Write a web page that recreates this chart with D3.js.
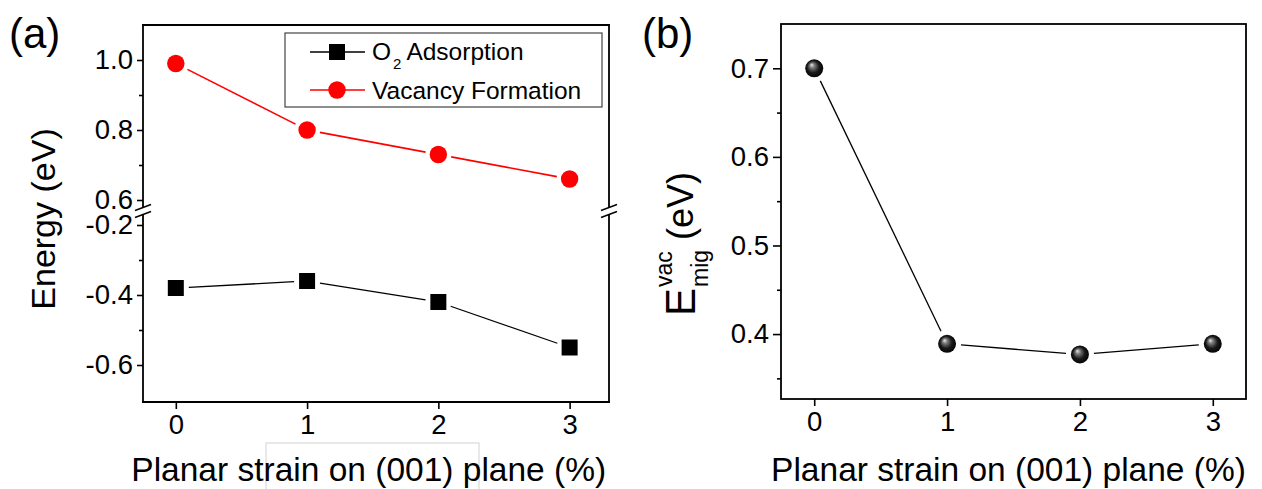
<!DOCTYPE html>
<html>
<head>
<meta charset="utf-8">
<script src="https://cdn.jsdelivr.net/npm/d3@7.9.0/dist/d3.min.js"></script>
<style>
  body { margin: 0; background: #fff; }
  svg { display: block; font-family: "Liberation Sans", Arial, sans-serif; }
</style>
</head>
<body>
<svg id="chart" width="1262" height="489"></svg>
<script>
// data
const strain = [0, 1, 2, 3];
const o2Adsorption = [-0.38, -0.36, -0.42, -0.55];
const vacancyFormation = [0.99, 0.80, 0.73, 0.66];
const migrationEnergy = [0.70, 0.389, 0.377, 0.389];

const xTicks = [0, 1, 2, 3];
const upperTicks = [0.6, 0.8, 1.0];
const upperMinor = [0.7, 0.9];
const lowerTicks = [-0.6, -0.4, -0.2];
const lowerMinor = [-0.5, -0.3];
const rightTicks = [0.4, 0.5, 0.6, 0.7];
const rightMinor = [0.35, 0.45, 0.55, 0.65];

const svg = d3.select('#chart');
const fmt = d => d.toFixed(1); // plain hyphen, not the unicode minus
const FONT = '"Liberation Sans", Arial, sans-serif';

// ---- panel (a) ----
const A = { left: 143, right: 609, top: 25, bottom: 402, brk: 211 };
const xA = d3.scaleLinear().domain([-0.25, 3.3]).range([A.left, A.right]);
const yUp = d3.scaleLinear().domain([0.6, 1.1]).range([200, A.top]);
const yLo = d3.scaleLinear().domain([-0.7, -0.2]).range([400, 225]);

// odd little grey box sitting behind the x title in the original
svg.append('rect')
  .attr('x', 266).attr('y', 443).attr('width', 213).attr('height', 60)
  .attr('fill', 'none').attr('stroke', '#d2d2d2').attr('stroke-width', 1);

const gA = svg.append('g');

function yAxisPiece(g, scale, major, minor, x, size) {
  const ax = g.append('g').attr('transform', `translate(${x},0)`)
    .call(d3.axisLeft(scale).tickValues(major).tickFormat(fmt).tickSize(size).tickPadding(4));
  ax.select('.domain').remove();
  ax.selectAll('line').attr('stroke', '#000').attr('stroke-width', 1.6);
  ax.selectAll('text').attr('font-size', 27.5).attr('fill', '#000').attr('font-family', FONT);
  const mn = g.append('g').attr('transform', `translate(${x},0)`)
    .call(d3.axisLeft(scale).tickValues(minor).tickFormat('').tickSize(4));
  mn.select('.domain').remove();
  mn.selectAll('line').attr('stroke', '#000').attr('stroke-width', 1.6);
}

function xAxis(g, scale, y) {
  const ax = g.append('g').attr('transform', `translate(0,${y})`)
    .call(d3.axisBottom(scale).tickValues(xTicks).tickFormat(d3.format('d')).tickSize(7).tickPadding(5));
  ax.select('.domain').remove();
  ax.selectAll('line').attr('stroke', '#000').attr('stroke-width', 1.6);
  ax.selectAll('text').attr('font-size', 27.5).attr('fill', '#000').attr('font-family', FONT);
}

yAxisPiece(gA, yUp, upperTicks, upperMinor, A.left, 6);
yAxisPiece(gA, yLo, lowerTicks, lowerMinor, A.left, 6);
xAxis(gA, xA, A.bottom);

// frame with the break cut out of both vertical sides
const frameA = [
  [A.left, A.top, A.right, A.top],
  [A.left, A.bottom, A.right, A.bottom],
  [A.left, A.top, A.left, A.brk - 4],
  [A.left, A.brk + 4, A.left, A.bottom],
  [A.right, A.top, A.right, A.brk - 4],
  [A.right, A.brk + 4, A.right, A.bottom]
];
gA.selectAll('line.frame').data(frameA).join('line')
  .attr('class', 'frame')
  .attr('x1', d => d[0]).attr('y1', d => d[1]).attr('x2', d => d[2]).attr('y2', d => d[3])
  .attr('stroke', '#000').attr('stroke-width', 1.8).attr('stroke-linecap', 'square');

// break marks "//"
[A.left, A.right].forEach(x => {
  [-3.5, 3.5].forEach(off => {
    gA.append('line')
      .attr('x1', x - 8).attr('y1', A.brk + off + 3)
      .attr('x2', x + 8).attr('y2', A.brk + off - 3)
      .attr('stroke', '#000').attr('stroke-width', 1.4);
  });
});

// lines that stop short of the markers, like Origin draws them
function gappedLine(g, pts, gap, color, width) {
  for (let i = 0; i < pts.length - 1; i++) {
    const [x1, y1] = pts[i], [x2, y2] = pts[i + 1];
    const len = Math.hypot(x2 - x1, y2 - y1);
    const ux = (x2 - x1) / len, uy = (y2 - y1) / len;
    g.append('line')
      .attr('x1', x1 + ux * gap).attr('y1', y1 + uy * gap)
      .attr('x2', x2 - ux * gap).attr('y2', y2 - uy * gap)
      .attr('stroke', color).attr('stroke-width', width);
  }
}

const redPts = strain.map((s, i) => [xA(s), yUp(vacancyFormation[i])]);
const blkPts = strain.map((s, i) => [xA(s), yLo(o2Adsorption[i])]);

gappedLine(gA, redPts, 13, '#ff0000', 1.6);
gappedLine(gA, blkPts, 13, '#000', 1.3);

gA.selectAll('circle.vac').data(redPts).join('circle')
  .attr('class', 'vac')
  .attr('cx', d => d[0]).attr('cy', d => d[1]).attr('r', 8.7)
  .attr('fill', '#ff0000');

gA.selectAll('rect.o2').data(blkPts).join('rect')
  .attr('class', 'o2')
  .attr('x', d => d[0] - 8).attr('y', d => d[1] - 8)
  .attr('width', 16).attr('height', 16)
  .attr('fill', '#000');

// legend
const leg = gA.append('g');
leg.append('rect')
  .attr('x', 285).attr('y', 33).attr('width', 317).attr('height', 74)
  .attr('fill', '#fff').attr('stroke', '#444').attr('stroke-width', 1.2);
leg.append('line').attr('x1', 310).attr('x2', 365).attr('y1', 52).attr('y2', 52)
  .attr('stroke', '#000').attr('stroke-width', 1.3);
leg.append('rect').attr('x', 329).attr('y', 44).attr('width', 16).attr('height', 16).attr('fill', '#000');
leg.append('line').attr('x1', 310).attr('x2', 365).attr('y1', 90).attr('y2', 90)
  .attr('stroke', '#ff0000').attr('stroke-width', 1.6);
leg.append('circle').attr('cx', 337).attr('cy', 90).attr('r', 8.7).attr('fill', '#ff0000');

const t1 = leg.append('text').attr('x', 372).attr('y', 60).attr('font-size', 24.5).attr('fill', '#000');
t1.append('tspan').text('O');
t1.append('tspan').attr('font-size', 15).attr('dy', 9).attr('dx', 2).text('2');
t1.append('tspan').attr('dy', -9).attr('dx', 5).text('Adsorption');
leg.append('text').attr('x', 372).attr('y', 99).attr('font-size', 24.5).attr('fill', '#000')
  .text('Vacancy Formation');

// axis titles, panel label
gA.append('text')
  .attr('transform', 'translate(55,219) rotate(-90)')
  .attr('text-anchor', 'middle').attr('font-size', 34).attr('fill', '#000')
  .text('Energy (eV)');
gA.append('text')
  .attr('x', xA(1.5) - 4).attr('y', 481)
  .attr('text-anchor', 'middle').attr('font-size', 33.5).attr('fill', '#000')
  .text('Planar strain on (001) plane (%)');
gA.append('text').attr('x', 9).attr('y', 48).attr('font-size', 42).attr('fill', '#000').text('(a)');

// ---- panel (b) ----
const B = { left: 781, right: 1246, top: 24, bottom: 399 };
const xB = d3.scaleLinear().domain([-0.25, 3.25]).range([B.left, B.right]);
const yB = d3.scaleLinear().domain([0.3267, 0.75]).range([B.bottom, B.top]);

const gB = svg.append('g');

const defs = svg.append('defs');
const grad = defs.append('radialGradient').attr('id', 'ball')
  .attr('cx', '50%').attr('cy', '50%').attr('r', '55%')
  .attr('fx', '35%').attr('fy', '30%');
grad.append('stop').attr('offset', '0%').attr('stop-color', '#e8e8e8');
grad.append('stop').attr('offset', '25%').attr('stop-color', '#7a7a7a');
grad.append('stop').attr('offset', '60%').attr('stop-color', '#1a1a1a');
grad.append('stop').attr('offset', '100%').attr('stop-color', '#000');

yAxisPiece(gB, yB, rightTicks, rightMinor, B.left, 8);
xAxis(gB, xB, B.bottom);

gB.append('rect')
  .attr('x', B.left).attr('y', B.top)
  .attr('width', B.right - B.left).attr('height', B.bottom - B.top)
  .attr('fill', 'none').attr('stroke', '#000').attr('stroke-width', 1.8);

const migPts = strain.map((s, i) => [xB(s), yB(migrationEnergy[i])]);
gappedLine(gB, migPts, 14, '#000', 1.3);
gB.selectAll('circle.mig').data(migPts).join('circle')
  .attr('class', 'mig')
  .attr('cx', d => d[0]).attr('cy', d => d[1]).attr('r', 9)
  .attr('fill', 'url(#ball)');

// E^vac_mig (eV), rotated
const lab = gB.append('g').attr('transform', 'translate(695,316) rotate(-90)')
  .attr('fill', '#000');
const eT = lab.append('text').attr('x', 0).attr('y', 0).attr('font-size', 42).text('E');
const eW = eT.node().getComputedTextLength();
lab.append('text').attr('x', eW + 1).attr('y', -23).attr('font-size', 23).text('vac');
const migT = lab.append('text').attr('x', eW + 1).attr('y', 13).attr('font-size', 23).text('mig');
const mW = migT.node().getComputedTextLength();
lab.append('text').attr('x', eW + 1 + mW + 10).attr('y', -2).attr('font-size', 36).text('(eV)');

gB.append('text')
  .attr('x', xB(1.5) - 5).attr('y', 481)
  .attr('text-anchor', 'middle').attr('font-size', 33.5).attr('fill', '#000')
  .text('Planar strain on (001) plane (%)');
gB.append('text').attr('x', 642).attr('y', 48).attr('font-size', 42).attr('fill', '#000').text('(b)');
</script>
</body>
</html>
